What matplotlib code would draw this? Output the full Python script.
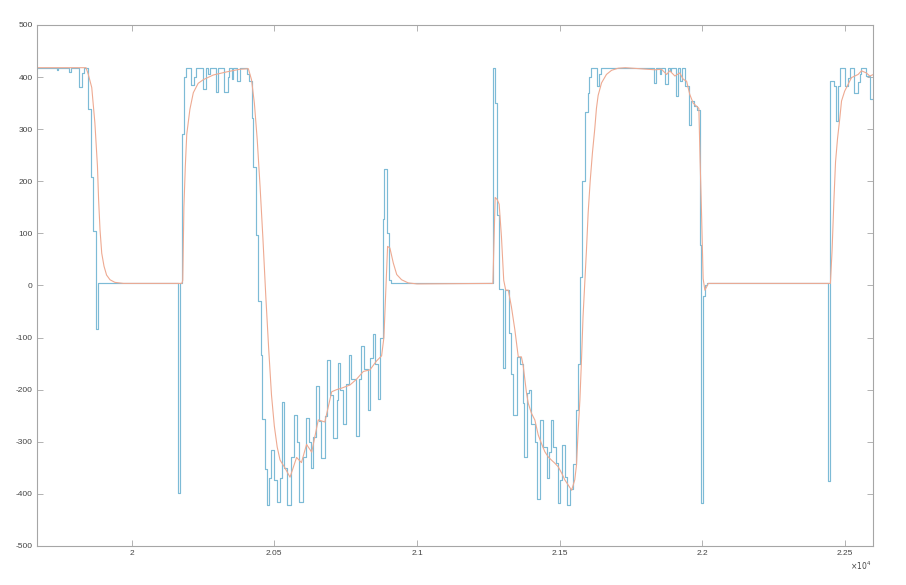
import matplotlib
matplotlib.use("Agg")
import matplotlib.pyplot as plt

# Blue (step) signal: change points and values
blue_x = [19668, 19738, 19743, 19779, 19787, 19815, 19825, 19834, 19846, 19858,
          19865, 19875, 19883, 20162, 20170, 20176, 20183, 20189, 20209, 20218,
          20224, 20251, 20259, 20268, 20274, 20295, 20303, 20322, 20336, 20340,
          20350, 20354, 20370, 20378, 20404, 20411, 20420, 20426, 20436, 20444,
          20453, 20458, 20467, 20473, 20481, 20490, 20499, 20508, 20519, 20526,
          20535, 20545, 20560, 20568, 20578, 20587, 20599, 20610, 20622, 20629,
          20637, 20646, 20656, 20664, 20678, 20686, 20695, 20705, 20718, 20722,
          20730, 20742, 20752, 20760, 20770, 20785, 20795, 20805, 20813, 20828,
          20836, 20846, 20854, 20864, 20872, 20880, 20886, 20895, 20902, 20908,
          21266, 21274, 21281, 21288, 21300, 21308, 21323, 21331, 21337, 21349,
          21362, 21370, 21376, 21384, 21392, 21401, 21413, 21421, 21431, 21442,
          21454, 21462, 21468, 21477, 21487, 21495, 21501, 21510, 21518, 21526,
          21536, 21547, 21557, 21565, 21571, 21577, 21588, 21598, 21604, 21609,
          21632, 21638, 21645, 21831, 21837, 21851, 21857, 21869, 21880, 21886,
          21891, 21907, 21915, 21921, 21929, 21939, 21953, 21962, 21970, 21980,
          21991, 21995, 22003, 22009, 22015, 22441, 22449, 22461, 22467, 22474,
          22484, 22499, 22511, 22517, 22532, 22546, 22553, 22558, 22575, 22589,
          22600]
blue_y = [418, 413, 418, 409, 418, 381, 407, 418, 338, 208,
          104, -84, 4, -398, 4, 291, 400, 418, 385, 400,
          418, 377, 418, 405, 418, 372, 418, 372, 400, 418,
          396, 418, 392, 418, 405, 392, 321, 227, 97, -29,
          -133, -256, -353, -421, -370, -316, -373, -415, -370, -223,
          -350, -421, -330, -249, -300, -415, -330, -255, -300, -351,
          -290, -193, -260, -332, -250, -143, -210, -293, -220, -149,
          -200, -266, -190, -133, -180, -288, -180, -117, -160, -239,
          -140, -94, -150, -217, -100, 127, 224, 101, 10, 4,
          418, 350, 136, -6, -159, -9, -92, -170, -249, -137,
          -150, -226, -329, -207, -200, -265, -300, -409, -258, -310,
          -370, -320, -258, -310, -340, -418, -374, -306, -367, -421,
          -390, -342, -239, -150, 17, 200, 333, 370, 400, 418,
          382, 405, 418, 389, 418, 405, 418, 386, 418, 412,
          418, 363, 418, 392, 418, 383, 308, 354, 344, 337,
          78, -418, -20, 0, 4, -375, 392, 383, 315, 383,
          418, 383, 399, 418, 370, 390, 405, 418, 402, 357,
          357]

# Red (smooth) signal
red_x = [19668, 19840, 19848, 19860, 19871, 19880, 19884, 19889, 19895, 19903,
         19912, 19924, 19941, 19971, 20176, 20179, 20183, 20188, 20193, 20204,
         20216, 20233, 20251, 20286, 20333, 20379, 20409, 20420, 20430, 20440,
         20450, 20460, 20470, 20480, 20490, 20500, 20510, 20520, 20537, 20555,
         20578, 20595, 20613, 20631, 20654, 20677, 20701, 20718, 20736, 20765,
         20788, 20812, 20835, 20858, 20876, 20884, 20890, 20897, 20905, 20917,
         20929, 20946, 20969, 21000, 21266, 21274, 21281, 21288, 21296, 21304,
         21311, 21320, 21331, 21343, 21355, 21366, 21372, 21384, 21390, 21401,
         21413, 21425, 21436, 21448, 21460, 21471, 21483, 21495, 21507, 21518,
         21530, 21542, 21553, 21559, 21565, 21571, 21577, 21582, 21588, 21594,
         21600, 21607, 21615, 21623, 21629, 21635, 21647, 21664, 21682,
         21705, 21730, 21834, 21857, 21875, 21886, 21904, 21921, 21933, 21945,
         21956, 21968, 21980, 21988, 21992, 21997, 22003, 22009, 22015, 22021,
         22449, 22455, 22461, 22467, 22474, 22482, 22488, 22499, 22511, 22523,
         22546, 22558, 22575, 22587, 22600]
red_y = [418, 418, 405, 380, 312, 229, 165, 107, 62, 37,
         20, 11, 6, 4, 4, 10, 150, 229, 290, 338,
         370, 388, 395, 404, 410, 415, 416, 395, 350, 280,
         190, 90, -20, -120, -210, -270, -310, -335, -350, -368,
         -330, -340, -305, -320, -258, -262, -204, -200, -197, -191,
         -180, -165, -162, -145, -135, -100, -20, 75, 72, 43,
         21, 11, 5, 3, 4, 169, 165, 156, 94, 10,
         -9, -9, -41, -85, -137, -137, -153, -207, -226, -245,
         -258, -287, -303, -319, -329, -335, -341, -348, -360, -373,
         -383, -393, -373, -345, -277, -220, -137, -60, 4, 68,
         140, 200, 255, 300, 340, 365, 389, 405, 413,
         417, 418, 414, 415, 405, 412, 402, 408, 396, 392,
         367, 350, 344, 340, 246, 146, 13, -9, -3, 4,
         4, 68, 159, 237, 282, 321, 354, 373, 386, 399,
         405, 412, 408, 402, 405]

x_ticks = [20000, 20500, 21000, 21500, 22000, 22500]
x_tick_labels = ["2", "2.05", "2.1", "2.15", "2.2", "2.25"]
y_ticks = list(range(-500, 501, 100))
y_tick_labels = [str(v) for v in y_ticks]

plt.rcParams['font.family'] = ['Liberation Sans', 'DejaVu Sans']

fig = plt.figure(figsize=(9.06, 5.85), dpi=100)
ax = fig.add_axes([0.0408, 0.0667, 0.9233, 0.8906])

ax.step(blue_x, blue_y, where='post', color='#7dbbd6', lw=0.85)
ax.plot(red_x, red_y, color='#eeaa92', lw=0.8)

ax.set_xlim(19668, 22600)
ax.set_ylim(-500, 500)
ax.set_xticks(x_ticks)
ax.set_xticklabels(x_tick_labels)
ax.set_yticks(y_ticks)
ax.set_yticklabels(y_tick_labels)

frame_col = '#a6a6a6'
for s in ax.spines.values():
    s.set_color(frame_col)
    s.set_linewidth(0.8)
ax.tick_params(direction='in', length=4, width=0.6, color=frame_col,
               labelsize=6, labelcolor='#444444', top=True, right=True, pad=3)

fig.text(0.962, 0.033, r'$\times10^4$', fontsize=5.5, color='#444444',
         ha='right', va='center')

fig.savefig('out.png', dpi=100, facecolor='white')
